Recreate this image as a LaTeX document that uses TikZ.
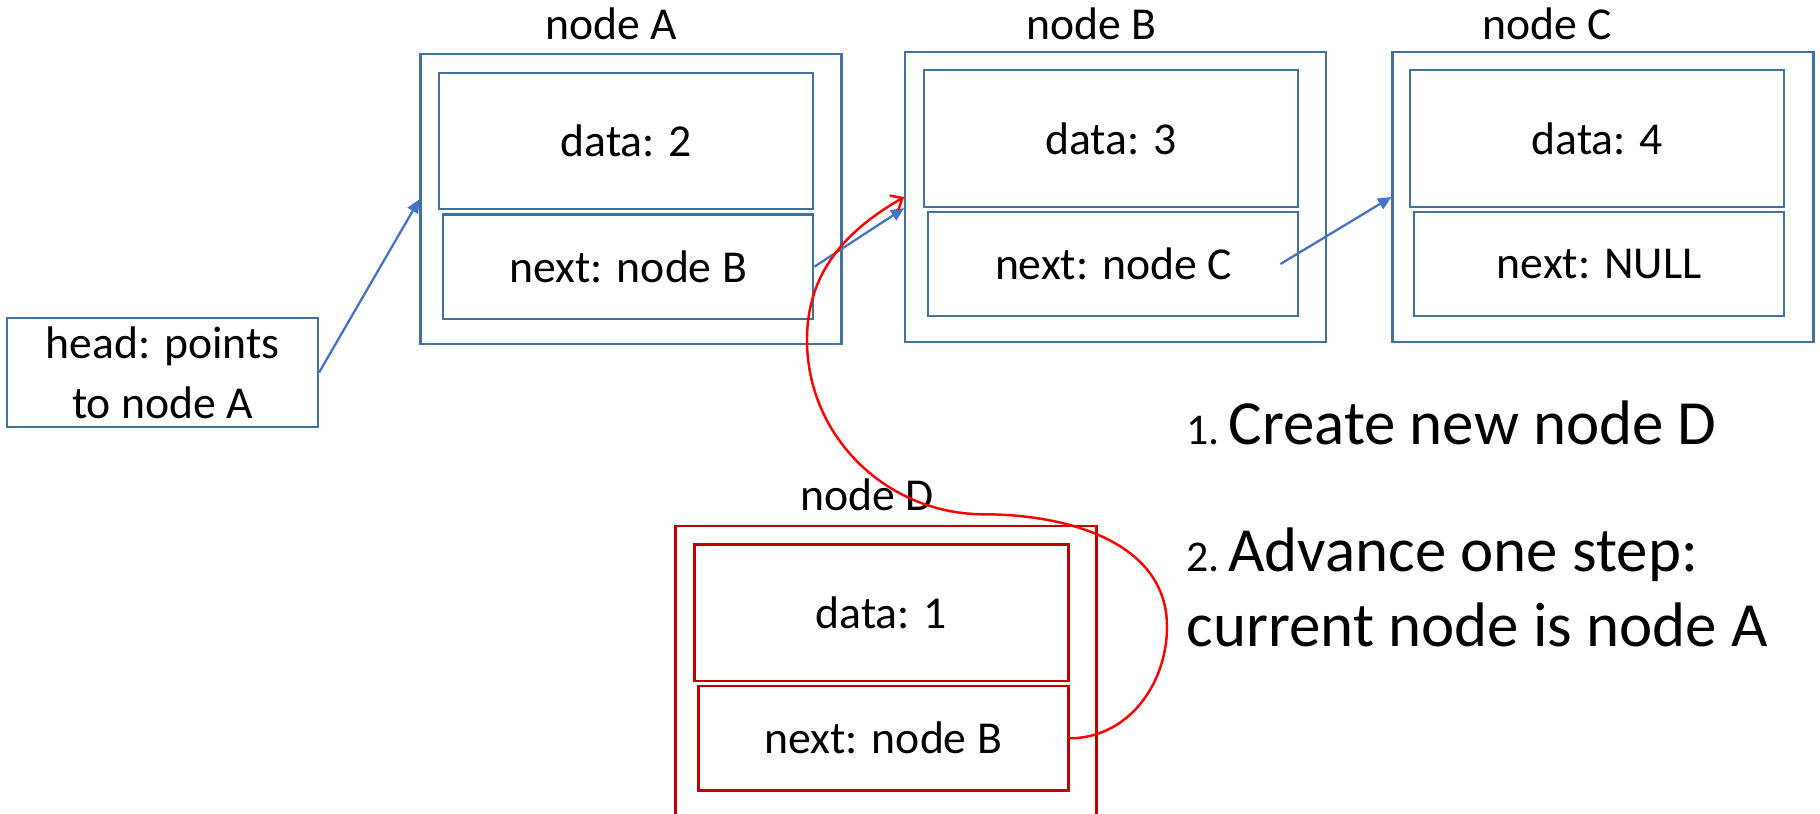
\documentclass[tikz,border=0pt]{standalone}
\usepackage{fontspec}
\setmainfont{Carlito}
\usetikzlibrary{arrows.meta}

\definecolor{boxblue}{RGB}{65,113,156}
\definecolor{ptrblue}{RGB}{68,114,196}
\definecolor{boxred}{RGB}{192,0,0}

\tikzset{
	cellbox/.style={draw=boxblue, line width=0.6pt, inner sep=0pt,
		minimum width=4.21cm, minimum height=2.9cm},
	datafield/.style={draw=boxblue, line width=0.6pt, inner sep=0pt,
		minimum width=3.74cm, minimum height=1.365cm, font=\fontsize{13}{15}\selectfont},
	nextfield/.style={draw=boxblue, line width=0.6pt, inner sep=0pt,
		minimum width=3.70cm, minimum height=1.045cm, font=\fontsize{13}{15}\selectfont},
	newnode/.style={draw=boxred, line width=0.7pt},
	boxtitle/.style={anchor=base, inner sep=0pt, font=\fontsize{13}{15}\selectfont},
	steptext/.style={anchor=base west, inner sep=0pt, align=left,
		font=\fontsize{17.9}{21.3}\selectfont},
	ptr/.style={draw=ptrblue, line width=0.65pt,
		-{Triangle[length=3.8pt,width=3.4pt]}},
	redptr/.style={draw=red, line width=0.7pt,
		-{Straight Barb[length=2.8pt,width=4.8pt]}}
}
\newcommand{\stepno}[1]{{\fontsize{12.5}{15}\selectfont #1}\hspace{2.4pt}}

\begin{document}
\begin{tikzpicture}
	\useasboundingbox (0,0) rectangle (18.2,-8.13);
	%
	%  LIST CELLS
	%
	\node[cellbox] (Aout) at (6.31,-1.993) {};
	\node[datafield] (Adata) at (6.262,-1.41) {data: 2};
	\node[nextfield] (Anext) at (6.283,-2.667) {next: node B};
	\node[boxtitle] (Alab) at (6.109,-0.393) {node A};
	%
	\node[cellbox] (Bout) at (11.157,-1.97) {};
	\node[datafield] (Bdata) at (11.111,-1.385) {data: 3};
	\node[nextfield] (Bnext) at (11.134,-2.64) {next: node C};
	\node[boxtitle] (Blab) at (10.914,-0.393) {node B};
	%
	\node[cellbox] (Cout) at (16.03,-1.97) {};
	\node[datafield] (Cdata) at (15.972,-1.385) {data: 4};
	\node[nextfield] (Cnext) at (15.992,-2.64) {next: NULL};
	\node[boxtitle] (Clab) at (15.469,-0.393) {node C};
	%
	\node[cellbox,newnode] (Dout) at (8.862,-6.71) {};
	\node[datafield,newnode] (Ddata) at (8.813,-6.127) {data: 1};
	\node[nextfield,newnode] (Dnext) at (8.833,-7.383) {next: node B};
	\node[boxtitle] (Dlab) at (8.672,-5.107) {node D};
	%
	\node[draw=boxblue, line width=0.6pt, inner sep=0pt, minimum width=3.11cm,
		minimum height=1.09cm, align=center, font=\fontsize{13}{17}\selectfont]
		(head) at (1.625,-3.725) {head: points\\to node A};
	%
	%  STEPS
	%
	\node[steptext] (step1) at (11.86,-4.44) {\stepno{1.}Create new node D};
	\node[steptext] (step2) at (11.86,-6.467)
		{\stepno{2.}Advance one step:\\current node is node A};
	%
	%  POINTERS
	%
	\draw[ptr] (head.east) -- (Aout.west);
	\draw[ptr] (Anext.east) -- (Bout.183);
	\draw[ptr] ([xshift=-0.19cm]Bnext.east) -- (Cout.west);
	%
	\coordinate (r1) at (11.67,-6.267);
	\coordinate (r2) at (9.84,-5.143);
	\coordinate (r3) at (8.07,-3.40);
	\draw[redptr] (Dnext.east) to[out=0,in=-90] (r1) to[out=90,in=0] (r2)
		to[out=180,in=-90] (r3) to[out=90,in=210] (Bout.west);
\end{tikzpicture}
\end{document}
